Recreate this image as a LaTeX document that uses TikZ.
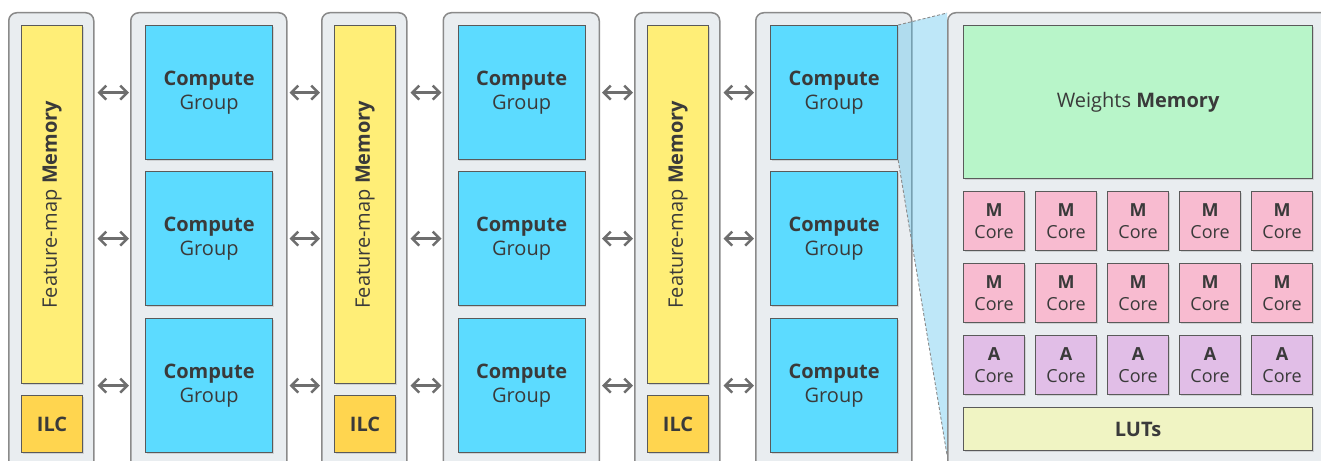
\documentclass[tikz,border=0pt]{standalone}
\usepackage{fontspec}
\setmainfont{Open Sans}
\usetikzlibrary{arrows.meta,shadows}

\definecolor{panelfill}{HTML}{E9EDF0}
\definecolor{paneldraw}{HTML}{8A8A8A}
\definecolor{boxdraw}{HTML}{5A5A5A}
\definecolor{txt}{HTML}{3A3A3A}
\definecolor{arrowgray}{HTML}{6E6E6E}
\definecolor{fmyellow}{HTML}{FFEE77}
\definecolor{ilcorange}{HTML}{FFD54F}
\definecolor{cgblue}{HTML}{5CDBFF}
\definecolor{wmgreen}{HTML}{B8F5C9}
\definecolor{mpink}{HTML}{F8BBD0}
\definecolor{apurple}{HTML}{E1BEE7}
\definecolor{lutgreen}{HTML}{F0F4C3}
\definecolor{zoomblue}{RGB}{92,195,237}

\tikzset{
  panel/.style={draw=paneldraw, fill=panelfill, line width=1.5pt, rounded corners=8pt, anchor=north west, inner sep=0pt},
  blk/.style={draw=boxdraw, line width=1.2pt, anchor=north west, inner sep=0pt, text=txt, align=center,
    font=\fontsize{20}{23.5}\selectfont, drop shadow={opacity=0.25, shadow xshift=1.2pt, shadow yshift=-1.2pt}},
  coreblk/.style={blk, minimum width=61, minimum height=59, font=\fontsize{18}{22}\selectfont},
  biarrow/.style={draw=arrowgray, line width=2.5pt, {Straight Barb[length=7pt,width=14pt]}-{Straight Barb[length=7pt,width=14pt]}}
}

\begin{document}
\begin{tikzpicture}[x=1pt, y=-1pt]
  \useasboundingbox (0,0) rectangle (1321,460);
  \clip (0,0) rectangle (1321,460);

  % Memory columns and compute columns
  \foreach \i in {1,2,3} {
    \pgfmathsetmacro{\fx}{8+313*(\i-1)}
    \pgfmathsetmacro{\cx}{130+312.5*(\i-1)}
    \node[panel, minimum width=85, minimum height=470] (fm\i) at (\fx,12) {};
    \node[blk, fill=fmyellow, minimum width=61, minimum height=358] (mem\i) at (\fx+13,25) {};
    \node[rotate=90, text=txt, font=\fontsize{20}{23.5}\selectfont] (memtxt\i) at (mem\i.center) {Feature-map \textbf{Memory}};
    \node[blk, fill=ilcorange, minimum width=61, minimum height=57, font=\fontsize{20}{23.5}\selectfont\bfseries] (ilc\i) at (\fx+13,395) {ILC};
    \node[panel, minimum width=156, minimum height=470] (cp\i) at (\cx,12) {};
    \foreach \r/\y in {1/25,2/171,3/318} {
      \node[blk, fill=cgblue, minimum width=127, minimum height=134] (cg\i\r) at (\cx+15,\y) {\textbf{Compute}\\Group};
      \draw[biarrow, shorten <=3pt, shorten >=1pt] (fm\i.east |- cg\i\r.west) -- (cp\i.west |- cg\i\r.west);
    }
  }

  % Arrows from compute column to next memory column
  \foreach \i/\j in {1/2,2/3} {
    \foreach \r in {1,2,3}
      \draw[biarrow, shorten <=2pt, shorten >=1pt] (cp\i.east |- cg\i\r.east) -- (fm\j.west |- cg\i\r.east);
  }

  % Zoom wedge
  \coordinate (zb) at (947,455);
  \coordinate (zt) at (947,13);
  \fill[zoomblue, fill opacity=0.4] (cg31.north east) -- (zt) -- (zb) -- (cg31.south east) -- cycle;

  % Zoomed compute group
  \node[panel, minimum width=400, minimum height=470] (zp) at (947,12) {};
  \draw[paneldraw, line width=0.9pt, dash pattern=on 3pt off 2pt] (cg31.north east) -- (zt);
  \draw[paneldraw, line width=0.9pt, dash pattern=on 3pt off 2pt] (cg31.south east) -- (zb);

  \node[blk, fill=wmgreen, minimum width=349, minimum height=153] (wm) at (963,25) {Weights \textbf{Memory}};
  \foreach \c in {1,...,5} {
    \pgfmathsetmacro{\kx}{963+72*(\c-1)}
    \foreach \r/\y/\t/\f in {1/191/M/mpink,2/263/M/mpink,3/335/A/apurple}
      \node[coreblk, fill=\f] (core\r\c) at (\kx,\y) {\textbf{\t}\\Core};
  }
  \node[blk, fill=lutgreen, minimum width=349, minimum height=43, font=\fontsize{20}{23.5}\selectfont\bfseries] (lut) at (963,407) {LUTs};
\end{tikzpicture}
\end{document}
